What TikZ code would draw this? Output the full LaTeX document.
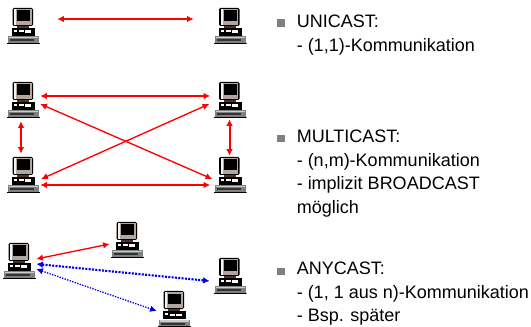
\documentclass[tikz,border=0pt]{standalone}
\usepackage{fontspec}
\setmainfont{Liberation Sans}
\usetikzlibrary{arrows.meta}

\definecolor{pcframe}{RGB}{176,168,160}
\definecolor{pcstand}{RGB}{80,48,32}
\definecolor{pckeys}{RGB}{128,128,128}
\definecolor{pcblue}{RGB}{0,0,240}

\newcommand{\pcicon}{%
\fill[black, rounded corners=1] (-10.5,-18) rectangle (10,0);
\fill[pcframe] (-9,-16.5) rectangle (8.8,-1);
\fill[white!85!pcframe] (-9,-16.5) rectangle (-7,-1);
\fill[black] (-6,-15.5) rectangle (7,-5);
\fill[pcstand] (-6,0) rectangle (6,2);
\fill[black] (-11,2) rectangle (12,10);
\fill[white] (-4,4.5) rectangle (1,6.5);
\fill[white] (2,4.5) rectangle (8,7);
\fill[white] (-9,4) rectangle (-6,6);
\fill[pckeys] (-15,10.5) rectangle (16,17);
\fill[white!60!pckeys] (-14,11) rectangle (15,12.5);
\fill[black!60!pckeys] (-13,13.5) rectangle (11,15.5);
\fill[black] (-16,17) rectangle (17,18);
}

\tikzset{
pc/.style={minimum width=25.5pt, minimum height=28.5pt, inner sep=0pt,
  path picture={\begin{scope}[shift={(path picture bounding box.center)}]\pcicon\end{scope}}},
link/.style={red, <->, line width=1.5pt},
thinlink/.style={red, <->, line width=1pt},
anylink/.style={pcblue, <->, line width=1.6pt, dash pattern=on 1.5pt off 1pt},
thinanylink/.style={pcblue, <->, line width=1pt, dash pattern=on 1pt off 1pt},
bullet/.style={fill=pckeys, minimum size=5.6pt, inner sep=0pt},
notes/.style={anchor=north west, inner sep=0pt, align=left, font=\fontsize{13.5}{17.6}\selectfont}
}

\begin{document}
\begin{tikzpicture}[x=0.75pt, y=-0.75pt, >={Latex[length=5pt,width=5pt]}]
\useasboundingbox (0,0) rectangle (531,327);

% unicast
\node[pc] (uniA) at (23,26) {};
\node[pc] (uniB) at (229.5,26) {};
\draw[link] ([shift={(17,-7)}]uniA.east) -- ([shift={(-18.5,-7)}]uniB.west);

% multicast
\node[pc] (multA) at (23,100) {};
\node[pc] (multB) at (229.5,100) {};
\node[pc] (multC) at (23,175) {};
\node[pc] (multD) at (229.5,175) {};
\draw[link] ([shift={(0,-4)}]multA.east) -- ([shift={(-2,-4)}]multB.west);
\draw[link] ([shift={(0,10)}]multC.east) -- ([shift={(-2,10)}]multD.west);
\draw[link] ([shift={(-2,2)}]multA.south) -- ([shift={(-2,-2)}]multC.north);
\draw[link] (multB.south) -- (multD.north);
\draw[thinlink] ([shift={(0,4)}]multA.east) -- ([shift={(0,4)}]multD.west);
\draw[thinlink] ([shift={(-3,4)}]multB.west) -- ([shift={(1,4)}]multC.east);

% anycast
\node[pc] (anyA) at (19,261) {};
\node[pc] (anyB) at (127,240) {};
\node[pc] (anyC) at (229.5,276) {};
\node[pc] (anyD) at (174,309) {};
\draw[thinlink] ([shift={(0,-2)}]anyA.east) -- ([shift={(0,4)}]anyB.west);
\draw[anylink] ([shift={(0,3)}]anyA.east) -- ([shift={(-2.5,5)}]anyC.west);
\draw[thinanylink] ([shift={(0,8)}]anyA.east) -- ([shift={(0,2)}]anyD.west);

% text
\node[bullet] (bulA) at (281,23) {};
\node[bullet] (bulB) at (281,138.5) {};
\node[bullet] (bulC) at (281,271.5) {};
\node[notes] (uniT) at (296.5,15) {UNICAST:\\- (1,1)-Kommunikation};
\node[notes] (multT) at (296.5,130) {MULTICAST:\\- (n,m)-Kommunikation\\- implizit BROADCAST\\möglich};
\node[notes] (anyT) at (296.5,262) {ANYCAST:\\- (1, 1 aus n)-Kommunikation\\- Bsp. später};
\end{tikzpicture}
\end{document}
